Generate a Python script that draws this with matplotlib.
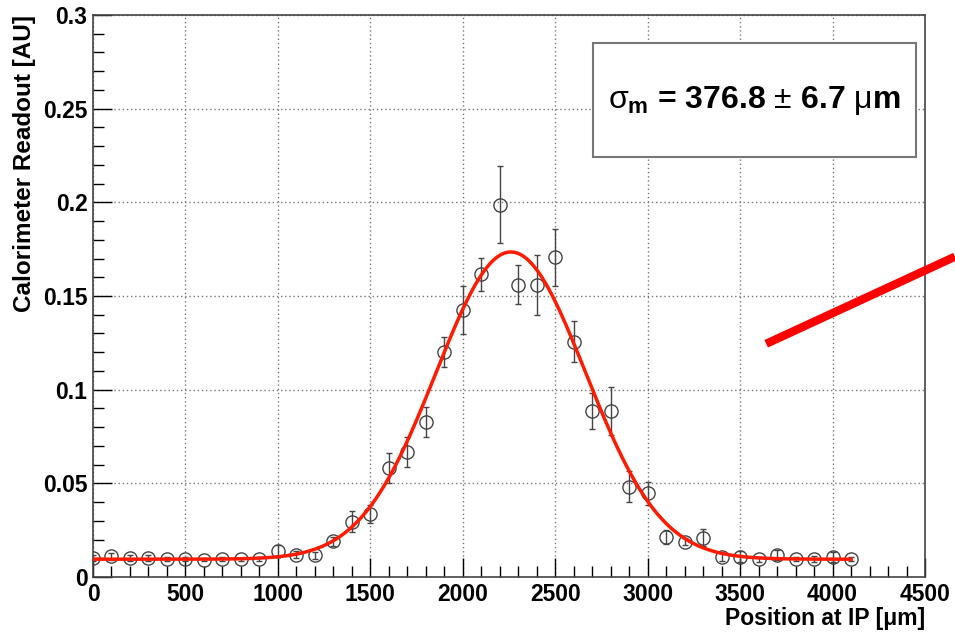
import numpy as np
import matplotlib.pyplot as plt
from matplotlib.ticker import MultipleLocator, FixedFormatter, FixedLocator
from matplotlib.patches import Rectangle

plt.rcParams['font.family'] = ['Liberation Sans', 'DejaVu Sans']
plt.rcParams['mathtext.fontset'] = 'custom'
plt.rcParams['mathtext.rm'] = 'Liberation Sans'
plt.rcParams['mathtext.it'] = 'Liberation Sans'
plt.rcParams['mathtext.bf'] = 'Liberation Sans:bold'
plt.rcParams['mathtext.default'] = 'it'

# measured positions (um) and calorimeter readout
pos = [0, 100, 200, 300, 400, 500, 600, 700, 800, 900,
       1000, 1100, 1200, 1300, 1400, 1500, 1600, 1700, 1800, 1900,
       2000, 2100, 2200, 2300, 2400, 2500, 2600, 2700, 2800, 2900,
       3000, 3100, 3200, 3300, 3400, 3500, 3600, 3700, 3800, 3900,
       4000, 4100]
readout = [0.0100, 0.0110, 0.0100, 0.0100, 0.0096, 0.0096, 0.0093, 0.0096, 0.0094, 0.0097,
           0.0140, 0.0120, 0.0116, 0.0190, 0.0296, 0.0336, 0.0580, 0.0668, 0.0830, 0.1200,
           0.1425, 0.1615, 0.1987, 0.1560, 0.1560, 0.1707, 0.1257, 0.0886, 0.0886, 0.0482,
           0.0447, 0.0215, 0.0189, 0.0210, 0.0108, 0.0108, 0.0094, 0.0117, 0.0096, 0.0096,
           0.0107, 0.0096]
err = [0.0015, 0.0020, 0.0015, 0.0015, 0.0012, 0.0012, 0.0010, 0.0012, 0.0010, 0.0012,
       0.0030, 0.0020, 0.0020, 0.0025, 0.0054, 0.0050, 0.0080, 0.0080, 0.0080, 0.0080,
       0.0130, 0.0090, 0.0205, 0.0105, 0.0160, 0.0152, 0.0110, 0.0095, 0.0130, 0.0083,
       0.0060, 0.0037, 0.0020, 0.0045, 0.0020, 0.0030, 0.0015, 0.0025, 0.0012, 0.0015,
       0.0025, 0.0012]

# gaussian + constant fit parameters
fit_amp = 0.164
fit_mean = 2260.0
fit_sigma = 405.0
fit_const = 0.0095

fig = plt.figure(figsize=(9.55, 6.37), dpi=100)
ax = fig.add_axes([93 / 955, 1 - 577 / 637, 832 / 955, 562 / 637])

ax.errorbar(pos, readout, yerr=err, fmt='o', ms=9.5, mfc='none', mec='#444444',
            mew=1.0, ecolor='#444444', elinewidth=1.0, capsize=2.5, capthick=1.0, zorder=3)

xf = np.linspace(pos[0], pos[-1], 400)
yf = fit_const + fit_amp * np.exp(-(xf - fit_mean) ** 2 / (2 * fit_sigma ** 2))
ax.plot(xf, yf, color='#ff1a00', lw=2.5, zorder=4)

ax.set_xlim(0, 4500)
ax.set_ylim(0, 0.3)

ax.xaxis.set_major_locator(MultipleLocator(500))
ax.xaxis.set_minor_locator(MultipleLocator(100))
ax.yaxis.set_major_locator(FixedLocator([0, 0.05, 0.1, 0.15, 0.2, 0.25, 0.3]))
ax.yaxis.set_major_formatter(FixedFormatter(['0', '0.05', '0.1', '0.15', '0.2', '0.25', '0.3']))
ax.yaxis.set_minor_locator(MultipleLocator(0.01))

ax.tick_params(which='both', direction='in', top=False, right=False)
ax.tick_params(which='major', length=14, width=1.0, labelsize=16.5, pad=4)
ax.tick_params(which='minor', length=8, width=1.0)
for lab in ax.get_xticklabels() + ax.get_yticklabels():
    lab.set_fontweight('bold')

ax.grid(True, which='major', linestyle=(0, (1, 2)), color='#777777', lw=1.0)
for sp in ax.spines.values():
    sp.set_color('#444444')
    sp.set_linewidth(1.2)

ax.set_xlabel('Position at IP [\u03bcm]', fontsize=16.5, fontweight='bold', loc='right', labelpad=1)
ax.set_ylabel('Calorimeter Readout [AU]', fontsize=17.5, fontweight='bold', loc='top', labelpad=5)

# fit result box
ax.add_patch(Rectangle((0.601, 0.747), 0.388, 0.203, transform=ax.transAxes,
                       facecolor='white', edgecolor='#777777', lw=1.5, zorder=5))
ax.text(0.795, 0.8485,
        r'$\sigma_{\mathbf{m}}$' + ' = 376.8 ' + r'$\pm$' + ' 6.7 ' + r'$\mu$' + 'm',
        transform=ax.transAxes, ha='center', va='center', fontsize=23,
        fontweight='bold', zorder=6)

# red pointer line on the right
ax.plot([3641, 4662], [0.1245, 0.171], color='#ff0000', lw=6, solid_capstyle='butt',
        clip_on=False, zorder=6)

fig.savefig('out.png', dpi=100)
